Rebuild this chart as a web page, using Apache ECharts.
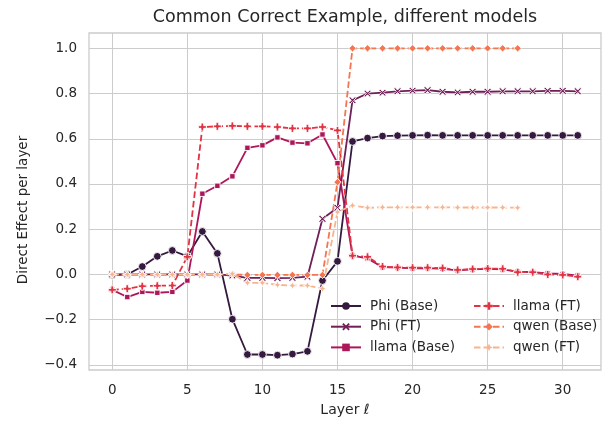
<!DOCTYPE html>
<html>
<head>
<meta charset="utf-8">
<script src="https://cdn.jsdelivr.net/npm/echarts@6/dist/echarts.min.js"></script>
<style>html,body{margin:0;padding:0;background:#fff}#c{width:606px;height:422px}</style>
</head>
<body>
<div id="c"></div>
<script>
const layers = [0,1,2,3,4,5,6,7,8,9,10,11,12,13,14,15,16,17,18,19,20,21,22,23,24,25,26,27,28,29,30,31];
const phiBase = [-0.003,0.0,0.035,0.08,0.106,0.08,0.19,0.093,-0.198,-0.354,-0.354,-0.357,-0.352,-0.34,-0.027,0.058,0.588,0.603,0.612,0.614,0.615,0.616,0.615,0.615,0.615,0.615,0.615,0.615,0.615,0.615,0.615,0.615];
const phiFT = [0.0,0.0,0.0,0.0,0.0,0.0,0.0,0.0,-0.005,-0.015,-0.015,-0.016,-0.015,-0.01,0.246,0.295,0.77,0.8,0.804,0.81,0.813,0.815,0.808,0.805,0.808,0.808,0.81,0.81,0.81,0.812,0.812,0.81];
const llamaBase = [-0.068,-0.1,-0.077,-0.081,-0.077,-0.027,0.357,0.392,0.434,0.56,0.571,0.606,0.583,0.58,0.619,0.492,0.083,0.071,0.032,0.03,0.027,0.028,0.025,0.018,0.022,0.025,0.022,0.012,0.01,0.005,0.002,-0.005];
const llamaFT = [-0.068,-0.063,-0.052,-0.05,-0.049,0.078,0.652,0.655,0.657,0.655,0.655,0.652,0.646,0.646,0.652,0.637,0.083,0.078,0.035,0.031,0.03,0.03,0.028,0.02,0.024,0.026,0.025,0.01,0.01,0.0,-0.002,-0.01];
const qwenBase = [0.0,-0.002,-0.002,-0.002,-0.002,-0.002,-0.002,-0.002,0.0,-0.002,-0.002,-0.002,-0.002,-0.002,-0.002,0.408,1.0,1.0,1.0,1.0,1.0,1.0,1.0,1.0,1.0,1.0,1.0,1.0];
const qwenFT = [0.0,0.0,0.0,0.0,0.0,0.0,0.0,0.0,0.003,-0.037,-0.037,-0.046,-0.049,-0.049,-0.063,0.276,0.305,0.295,0.297,0.297,0.297,0.297,0.297,0.296,0.296,0.296,0.296,0.295];
const seriesNames = ['Phi (Base)','Phi (FT)','llama (Base)','llama (FT)','qwen (Base)','qwen (FT)'];
const xTicks = [0,5,10,15,20,25,30];
const yTicks = [-0.4,-0.2,0.0,0.2,0.4,0.6,0.8,1.0];

const colors = ['#35193e','#701f57','#ad1759','#e13342','#f37651','#f6b48f'];
const LW = 1.8;
const plusPath = 'path://M-1,-3L1,-3L1,-1L3,-1L3,1L1,1L1,3L-1,3L-1,1L-3,1L-3,-1L-1,-1Z';
const xPath = 'path://M-3,-2L-2,-3L0,-1L2,-3L3,-2L1,0L3,2L2,3L0,1L-2,3L-3,2L-1,0Z';
const starPath = 'path://M0,-2L0.6,-0.6L2,0L0.6,0.6L0,2L-0.6,0.6L-2,0L-0.6,-0.6Z';
const dashed = [6.5, 3];
const styles = [
  {symbol:'circle', size:7.8, dash:'solid'},
  {symbol:xPath, size:7.4, dash:'solid'},
  {symbol:'rect', size:5.4, dash:'solid'},
  {symbol:plusPath, size:8, dash:dashed},
  {symbol:'diamond', size:7.4, dash:dashed},
  {symbol:starPath, size:8, dash:dashed}
];
const allData = [phiBase, phiFT, llamaBase, llamaFT, qwenBase, qwenFT];

const series = allData.map((vals, k) => ({
  name: seriesNames[k],
  type: 'line',
  data: vals.map((v, i) => [layers[i], v]),
  symbol: styles[k].symbol,
  symbolSize: styles[k].size,
  showAllSymbol: true,
  lineStyle: {color: colors[k], width: LW, type: styles[k].dash},
  itemStyle: {color: colors[k], borderColor: '#ffffff', borderWidth: 0.9},
  emphasis: {disabled: true}
}));

const font = 'DejaVu Sans';
const legendCommon = {
  orient: 'vertical', itemWidth: 30, itemHeight: 9.5, itemGap: 6.7,
  itemStyle: {borderWidth: 0},
  textStyle: {fontFamily: font, fontSize: 13.5, lineHeight: 14, color: '#262626', padding: [0,0,0,4]},
  selectedMode: false, backgroundColor: 'transparent'
};

const chart = echarts.init(document.getElementById('c'), null, {renderer: 'canvas'});
chart.setOption({
  animation: false,
  backgroundColor: '#ffffff',
  color: colors,
  grid: {left: 89, right: 5, top: 33, bottom: 52, show: true, borderColor: '#cccccc', borderWidth: 1.3, backgroundColor: 'transparent'},
  xAxis: {
    type: 'value', min: -1.55, max: 32.55,
    name: 'Layer {i|ℓ}', nameLocation: 'middle', nameGap: 33,
    nameTextStyle: {fontFamily: font, fontSize: 14, color: '#262626', rich: {i: {fontFamily: font, fontSize: 14, fontStyle: 'italic', color: '#262626'}}},
    axisLine: {show: false},
    axisTick: {show: false, customValues: xTicks},
    axisLabel: {customValues: xTicks, fontFamily: font, fontSize: 13.5, color: '#262626', margin: 13},
    splitLine: {show: true, lineStyle: {color: '#cccccc', width: 1}}
  },
  yAxis: {
    type: 'value', min: -0.4226, max: 1.0678,
    axisLine: {show: false},
    axisTick: {show: false, customValues: yTicks},
    axisLabel: {customValues: yTicks, fontFamily: font, fontSize: 13.5, color: '#262626', margin: 12,
      formatter: v => v.toFixed(1).replace('-', '\u2212')},
    splitLine: {show: true, lineStyle: {color: '#cccccc', width: 1}}
  },
  legend: [
    Object.assign({left: 325, top: 294, data: seriesNames.slice(0,3)}, legendCommon),
    Object.assign({left: 468, top: 294, data: seriesNames.slice(3,6)}, legendCommon)
  ],
  graphic: [{
    type: 'text', x: 345, y: 17,
    style: {text: 'Common Correct Example, different models', fontFamily: font, fontSize: 17.5, fill: '#262626', textAlign: 'center', textVerticalAlign: 'middle'}
  }, {
    type: 'text', x: 23, y: 210, rotation: Math.PI / 2,
    style: {text: 'Direct Effect per layer', fontFamily: font, fontSize: 13.5, fill: '#262626', textAlign: 'center', textVerticalAlign: 'middle'}
  }],
  series: series
});
</script>
</body>
</html>
